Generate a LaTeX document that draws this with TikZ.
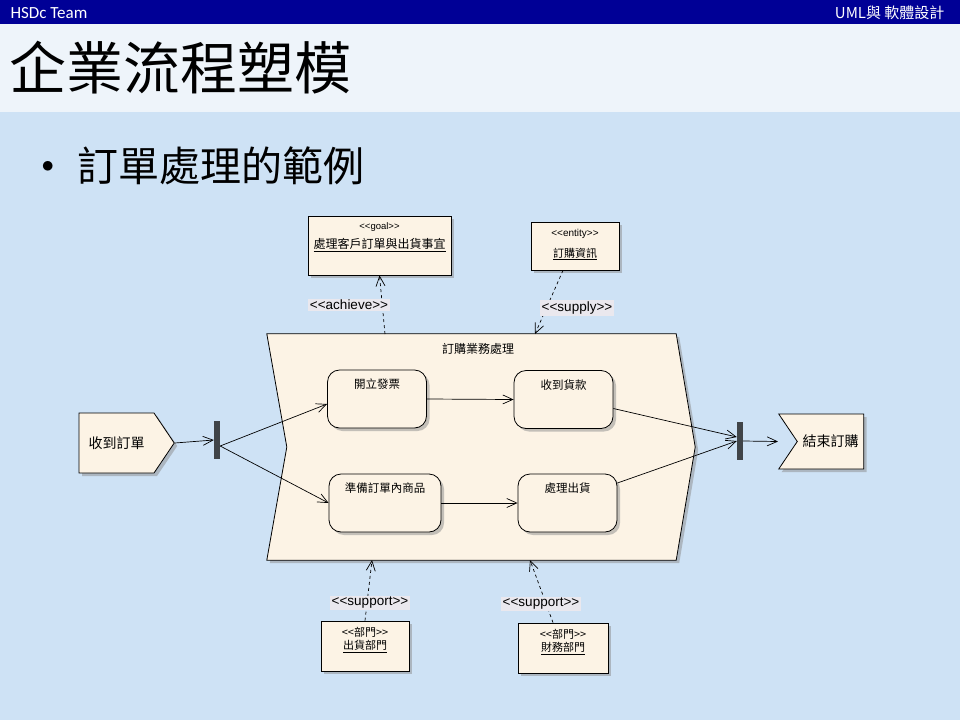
\documentclass[tikz,border=0pt]{standalone}
\usepackage{fontspec}
\setmainfont{Liberation Sans}
\newfontfamily\cjk{Noto Sans CJK TC}
\newfontfamily\hdrfont{Carlito}
\usepackage{tikz}
\usetikzlibrary{shapes.symbols, arrows.meta, positioning, calc, shadows}
\definecolor{hdrblue}{RGB}{0,0,150}
\definecolor{bgblue}{RGB}{206,226,245}
\definecolor{titlebg}{RGB}{238,244,250}
\definecolor{umlfill}{RGB}{252,243,229}
\definecolor{lblfill}{RGB}{234,232,238}
\definecolor{bardark}{RGB}{64,68,72}
% stereotype brackets, kept apart so no guillemet ligature is formed
\newcommand{\stereo}[1]{<\kern0pt<#1>\kern0pt>}
\tikzset{
  umlshadow/.style={drop shadow={shadow xshift=3pt, shadow yshift=-3pt,
    fill=black!45, opacity=0.5}},
  umlbox/.style={rectangle, draw=black, fill=umlfill, line width=0.8pt,
    umlshadow, inner sep=0pt},
  actbox/.style={umlbox, rounded corners=12pt, minimum width=99pt,
    minimum height=58pt},
  sigbox/.style={signal, draw=black, fill=umlfill, line width=0.8pt,
    umlshadow, font=\cjk\fontsize{14}{16}\selectfont, inner ysep=0pt,
    minimum height=58pt, signal pointer angle=112},
  barnode/.style={rectangle, fill=bardark, minimum width=6pt,
    minimum height=38pt, inner sep=0pt},
  deplabel/.style={fill=lblfill, inner sep=1.5pt,
    font=\fontsize{13.5}{15}\selectfont},
  flow/.style={-{Straight Barb[length=10pt, width=9pt]}, line width=0.7pt},
  dep/.style={flow, dashed, dash pattern=on 3pt off 3pt}
}

\begin{document}
\begin{tikzpicture}[x=1pt, y=-1pt]
  \useasboundingbox (0,0) rectangle (960,720);

  % Background and header bar
  \fill[bgblue] (0,0) rectangle (960,720);
  \fill[titlebg] (0,24) rectangle (960,112);
  \fill[hdrblue] (0,0) rectangle (960,24);
  \node[anchor=west, text=white, font=\hdrfont\fontsize{17}{19}\selectfont] (team) at (7,13) {HSDc Team};
  \node[anchor=east, text=white, font=\cjk\fontsize{15}{17}\selectfont] (course) at (948,13) {UML與 軟體設計};

  % Title and bullet
  \node[anchor=west, font=\cjk\fontsize{57}{60}\selectfont] (title) at (6,68) {企業流程塑模};
  \node[anchor=west, font=\fontsize{30}{32}\selectfont] (dot) at (38,167) {$\bullet$};
  \node[anchor=west, font=\cjk\fontsize{41}{44}\selectfont] (sub) at (74,166) {訂單處理的範例};

  % Business process shape
  \node[minimum width=409pt, minimum height=226pt, inner sep=0pt] (proc) at (471.5,447) {};
  \draw[fill=umlfill, line width=0.8pt, umlshadow] (proc.north west) -- (proc.north east)
    -- ($(proc.east)+(19,0)$) -- (proc.south east) -- (proc.south west)
    -- ($(proc.west)+(20,0)$) -- cycle;
  \node[font=\cjk\fontsize{12}{14}\selectfont] (proclbl) at (478,349) {訂購業務處理};

  % Activities
  \node[actbox, label={[anchor=north, yshift=-6pt, font=\cjk\fontsize{11.5}{13}\selectfont]north:開立發票}] (invoice) at (377,399) {};
  \node[actbox, label={[anchor=north, yshift=-6pt, font=\cjk\fontsize{11.5}{13}\selectfont]north:收到貨款}] (payment) at (563.5,399.5) {};
  \node[actbox, minimum width=112pt, label={[anchor=north, yshift=-6pt, font=\cjk\fontsize{11.5}{13}\selectfont]north:準備訂單內商品}] (prepare) at (385,503) {};
  \node[actbox, label={[anchor=north, yshift=-6pt, font=\cjk\fontsize{11.5}{13}\selectfont]north:處理出貨}] (ship) at (567.5,503) {};

  % Start and end events, fork and join
  \node[sigbox, signal to=east, inner xsep=9.5pt, minimum width=94pt, minimum height=60pt] (recv) at (116.5,443) {收到訂單};
  \node[sigbox, signal to=nowhere, signal from=west, inner xsep=5pt, minimum width=85pt, minimum height=55pt] (done) at (830.5,441.5) {結束訂購};
  \node[barnode] (fork) at (217,440) {};
  \node[barnode] (join) at (740,441) {};

  % Goal, entity and departments
  \node[umlbox, minimum width=143pt, minimum height=59pt] (goal) at (379.5,245.5) {};
  \node[anchor=north, font=\fontsize{9.5}{10}\selectfont] (goalst) at (379.5,219) {\stereo{goal}};
  \node[anchor=north, font=\cjk\fontsize{12}{14}\selectfont] (goalnm) at (goalst.south) {\underline{處理客戶訂單與出貨事宜}};
  \node[umlbox, minimum width=88pt, minimum height=48pt] (info) at (575,246) {};
  \node[anchor=north, font=\fontsize{10}{11}\selectfont] (infost) at (575,226) {\stereo{entity}};
  \node[anchor=north, font=\cjk\fontsize{11}{13}\selectfont] (infonm) at ([yshift=-2pt]infost.south) {\underline{訂購資訊}};
  \node[umlbox, minimum width=88pt, minimum height=50pt] (shipdept) at (365,646) {};
  \node[anchor=north, font=\cjk\fontsize{11}{13}\selectfont, align=center] (shipdeptnm) at (365,624) {\stereo{部門}\\\underline{出貨部門}};
  \node[umlbox, minimum width=90pt, minimum height=50pt] (findept) at (563,648) {};
  \node[anchor=north, font=\cjk\fontsize{11}{13}\selectfont, align=center] (findeptnm) at (563,626) {\stereo{部門}\\\underline{財務部門}};

  % Control flows
  \draw[flow] (recv.east) -- (fork.west);
  \draw[flow] ([yshift=-6pt]fork.east) -- ([yshift=-5pt]invoice.west);
  \draw[flow] ([yshift=-6pt]fork.east) -- (prepare.west);
  \draw[flow] (invoice.east) -- (payment.west);
  \draw[flow] (prepare.east) -- (ship.west);
  \draw[flow] ([yshift=-9pt]payment.east) -- ([yshift=4pt]join.west);
  \draw[flow] ([yshift=20pt]ship.east) -- (join.west);
  \draw[flow] (join.east) -- ($(done.north west)!0.5!(done.south west)$);

  % Dependencies
  \coordinate (achfoot) at (385,334);
  \coordinate (suptip) at (535,334);
  \coordinate (shipsup) at (372,560);
  \coordinate (finsup) at (530,560);
  \draw[dep] (achfoot) -- (goal.south);
  \draw[dep] ([xshift=-12pt]info.south) -- (suptip);
  \draw[dep] (shipdept.north) -- (shipsup);
  \draw[dep] ([xshift=-10pt]findept.north) -- (finsup);
  \node[deplabel] (achlbl) at (349,305) {\stereo{achieve}};
  \node[deplabel] (suplbl) at (577,308) {\stereo{supply}};
  \node[deplabel] (shiplbl) at (370,603) {\stereo{support}};
  \node[deplabel] (finlbl) at (541,604) {\stereo{support}};
\end{tikzpicture}
\end{document}
